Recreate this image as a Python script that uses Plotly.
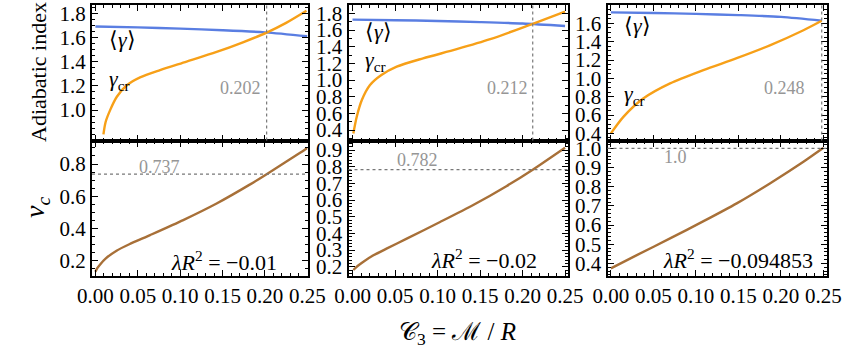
import plotly.graph_objects as go

# ---------------- data ----------------
# Top row: adiabatic index
p1_gcr_x = [0.0095, 0.012, 0.0174, 0.0253, 0.037, 0.0527, 0.0762, 0.1076, 0.143, 0.174, 0.202, 0.225, 0.249]
p1_gcr_y = [0.80, 0.90, 1.00, 1.11, 1.205, 1.27, 1.33, 1.40, 1.48, 1.56, 1.64, 1.72, 1.82]
p1_gav_x = [0.0, 0.05, 0.10, 0.15, 0.20, 0.25]
p1_gav_y = [1.69, 1.683, 1.673, 1.66, 1.642, 1.61]

p2_gcr_x = [0.001, 0.005, 0.011, 0.0206, 0.034, 0.052, 0.083, 0.1226, 0.162, 0.212, 0.25]
p2_gcr_y = [0.36, 0.56, 0.76, 0.94, 1.06, 1.16, 1.26, 1.37, 1.49, 1.675, 1.82]
p2_gav_x = [0.0, 0.05, 0.10, 0.15, 0.20, 0.25]
p2_gav_y = [1.725, 1.718, 1.708, 1.695, 1.678, 1.648]

p3_gcr_x = [0.0, 0.0147, 0.038, 0.0696, 0.1088, 0.148, 0.187, 0.2265, 0.248]
p3_gcr_y = [0.40, 0.58, 0.78, 0.945, 1.09, 1.22, 1.36, 1.525, 1.628]
p3_gav_x = [0.0, 0.05, 0.10, 0.15, 0.20, 0.248]
p3_gav_y = [1.72, 1.713, 1.703, 1.69, 1.67, 1.628]

# Bottom row: v_c
p1_vc_x = [0.0, 0.002, 0.0056, 0.012, 0.025, 0.04, 0.0645, 0.1036, 0.143, 0.182, 0.202, 0.241, 0.25]
p1_vc_y = [0.131, 0.152, 0.177, 0.213, 0.262, 0.302, 0.359, 0.452, 0.555, 0.672, 0.737, 0.868, 0.9]
p2_vc_x = [0.001, 0.006, 0.012, 0.0246, 0.04, 0.0638, 0.103, 0.142, 0.181, 0.212, 0.25]
p2_vc_y = [0.18, 0.204, 0.227, 0.268, 0.308, 0.368, 0.468, 0.57, 0.683, 0.782, 0.914]
p3_vc_x = [0.0, 0.0305, 0.0696, 0.109, 0.148, 0.187, 0.2265, 0.25]
p3_vc_y = [0.374, 0.443, 0.53, 0.62, 0.713, 0.817, 0.93, 1.003]

crit_C3 = [0.202, 0.212, 0.248]
crit_C3_labels = ["0.202", "0.212", "0.248"]
crit_vc = [0.737, 0.782, 1.0]
crit_vc_labels = ["0.737", "0.782", "1.0"]
lambda_labels = ["\u22120.01", "\u22120.02", "\u22120.094853"]

x_ticks = [0.0, 0.05, 0.10, 0.15, 0.20, 0.25]
top_yticks = [[1.0, 1.2, 1.4, 1.6, 1.8],
              [0.4, 0.6, 0.8, 1.0, 1.2, 1.4, 1.6, 1.8],
              [0.4, 0.6, 0.8, 1.0, 1.2, 1.4, 1.6]]
bot_yticks = [[0.2, 0.4, 0.6, 0.8],
              [0.2, 0.3, 0.4, 0.5, 0.6, 0.7, 0.8, 0.9],
              [0.4, 0.5, 0.6, 0.7, 0.8, 0.9, 1.0]]

# ---------------- styling / layout ----------------
W, H = 861, 349
BLUE = "rgb(90,126,226)"
ORANGE = "rgb(247,160,24)"
BROWN = "rgb(168,112,56)"
GRAY = "rgb(150,150,150)"
FONT = "Liberation Serif"

xdom_px = [(92, 307.5), (348.5, 567.5), (607.5, 827)]
xranges = [[-0.004, 0.2502], [-0.0047, 0.2529], [-0.004, 0.2542]]
top_y_px = (5, 140.5)
bot_y_px = (140.5, 276)
top_yranges = [[0.749, 1.868], [0.275, 1.90], [0.322, 1.80]]
bot_yranges = [[0.105, 0.946], [0.144, 0.957], [0.334, 1.041]]
top_minor = [0.05, 0.1, 0.05]
bot_minor = [0.05, 0.02, 0.02]


def xd(px):
    return [px[0] / W, px[1] / W]


def yd(py):
    return [1 - py[1] / H, 1 - py[0] / H]


fig = go.Figure()

top_gcr = [(p1_gcr_x, p1_gcr_y), (p2_gcr_x, p2_gcr_y), (p3_gcr_x, p3_gcr_y)]
top_gav = [(p1_gav_x, p1_gav_y), (p2_gav_x, p2_gav_y), (p3_gav_x, p3_gav_y)]
bot_vc = [(p1_vc_x, p1_vc_y), (p2_vc_x, p2_vc_y), (p3_vc_x, p3_vc_y)]

for i in range(3):
    xt = "x" if i == 0 else f"x{i+1}"
    yt = "y" if i == 0 else f"y{i+1}"
    xb = f"x{i+4}"
    yb = f"y{i+4}"
    fig.add_trace(go.Scatter(x=top_gav[i][0], y=top_gav[i][1], mode="lines",
                             line=dict(color=BLUE, width=2.4, shape="spline", smoothing=0.8),
                             xaxis=xt, yaxis=yt, showlegend=False))
    fig.add_trace(go.Scatter(x=top_gcr[i][0], y=top_gcr[i][1], mode="lines",
                             line=dict(color=ORANGE, width=2.4, shape="spline", smoothing=0.8),
                             xaxis=xt, yaxis=yt, showlegend=False))
    fig.add_trace(go.Scatter(x=bot_vc[i][0], y=bot_vc[i][1], mode="lines",
                             line=dict(color=BROWN, width=2.4, shape="spline", smoothing=0.6),
                             xaxis=xb, yaxis=yb, showlegend=False))

axis_common = dict(showgrid=False, zeroline=False, showline=True, linecolor="black",
                   linewidth=2, mirror="allticks", ticks="inside", ticklen=6,
                   tickwidth=1.3, tickcolor="black", automargin=False,
                   tickfont=dict(family=FONT, size=21, color="black"))

layout = dict(width=W, height=H, margin=dict(l=0, r=0, t=0, b=0, autoexpand=False),
              paper_bgcolor="white", plot_bgcolor="white", showlegend=False,
              font=dict(family=FONT, color="black"))

for i in range(3):
    n_t = "" if i == 0 else str(i + 1)
    n_b = str(i + 4)
    minor_x = dict(dtick=0.01, tick0=0, ticklen=3, tickwidth=1, tickcolor="black", ticks="inside")
    layout["xaxis" + n_t] = dict(axis_common, domain=xd(xdom_px[i]), range=xranges[i],
                                 anchor="y" + n_t, tickvals=x_ticks, showticklabels=False,
                                 minor=minor_x)
    layout["yaxis" + n_t] = dict(axis_common, domain=yd(top_y_px), range=top_yranges[i],
                                 anchor="x" + n_t, tickvals=top_yticks[i], tickformat=".1f",
                                 minor=dict(dtick=top_minor[i], tick0=0, ticklen=3, tickwidth=1,
                                            tickcolor="black", ticks="inside"))
    layout["xaxis" + n_b] = dict(axis_common, domain=xd(xdom_px[i]), range=xranges[i],
                                 anchor="y" + n_b, tickvals=x_ticks, tickformat=".2f",
                                 minor=minor_x)
    layout["yaxis" + n_b] = dict(axis_common, domain=yd(bot_y_px), range=bot_yranges[i],
                                 anchor="x" + n_b, tickvals=bot_yticks[i], tickformat=".1f",
                                 minor=dict(dtick=bot_minor[i], tick0=0, ticklen=3, tickwidth=1,
                                            tickcolor="black", ticks="inside"))

fig.update_layout(**layout)

# dashed reference lines
shapes = []
for i in range(3):
    xt = "x" if i == 0 else f"x{i+1}"
    yt = "y" if i == 0 else f"y{i+1}"
    shapes.append(dict(type="line", xref=xt, yref=yt + " domain", x0=crit_C3[i], x1=crit_C3[i],
                       y0=0, y1=1, line=dict(color="rgb(120,120,120)", width=1.2, dash="3px,3px")))
    shapes.append(dict(type="line", xref=f"x{i+4} domain", yref=f"y{i+4}", x0=0, x1=1,
                       y0=crit_vc[i], y1=crit_vc[i],
                       line=dict(color="rgb(120,120,120)", width=1.2, dash="3px,3px")))
fig.update_layout(shapes=shapes)

ann = []
gav_pos = [(0.014, 1.585), (0.0124, 1.585), (0.0132, 1.575)]
gcr_pos = [(0.014, 1.25), (0.0124, 1.23), (0.0132, 0.82)]
crit_pos = [(0.1974, 1.185), (0.2088, 0.905), (0.2308, 0.894)]
vcl_pos = [(0.049, 0.783), (0.05, 0.84), (0.060, 0.955)]
lam_pos = [(0.216, 0.20), (0.219, 0.246), (0.2405, 0.422)]
for i in range(3):
    xt = "x" if i == 0 else f"x{i+1}"
    yt = "y" if i == 0 else f"y{i+1}"
    ann.append(dict(x=gav_pos[i][0], y=gav_pos[i][1], xref=xt, yref=yt, showarrow=False,
                    xanchor="left", yanchor="middle", text="\u27e8<i>\u03b3</i>\u27e9",
                    font=dict(family=FONT, size=22, color="black")))
    ann.append(dict(x=gcr_pos[i][0], y=gcr_pos[i][1], xref=xt, yref=yt, showarrow=False,
                    xanchor="left", yanchor="middle", text="<i>\u03b3</i><sub>cr</sub>",
                    font=dict(family=FONT, size=22, color="black")))
    ann.append(dict(x=crit_pos[i][0], y=crit_pos[i][1], xref=xt, yref=yt, showarrow=False,
                    xanchor="right", yanchor="middle", text=crit_C3_labels[i],
                    font=dict(family=FONT, size=18, color=GRAY)))
    ann.append(dict(x=vcl_pos[i][0], y=vcl_pos[i][1], xref=f"x{i+4}", yref=f"y{i+4}",
                    showarrow=False, xanchor="left", yanchor="middle", text=crit_vc_labels[i],
                    font=dict(family=FONT, size=18, color=GRAY)))
    ann.append(dict(x=lam_pos[i][0], y=lam_pos[i][1], xref=f"x{i+4}", yref=f"y{i+4}",
                    showarrow=False, xanchor="right", yanchor="middle",
                    text="<i>\u03bbR</i><sup>2</sup> = " + lambda_labels[i],
                    font=dict(family=FONT, size=22, color="black")))

ann.append(dict(x=38 / W, y=1 - 72 / H, xref="paper", yref="paper", showarrow=False,
                textangle=-90, text="Adiabatic index", xanchor="center", yanchor="middle",
                font=dict(family=FONT, size=22, color="black")))
ann.append(dict(x=36 / W, y=1 - 208 / H, xref="paper", yref="paper", showarrow=False,
                textangle=-90, text="<i>v</i><sub><i>c</i></sub>", xanchor="center",
                yanchor="middle", font=dict(family=FONT, size=28, color="black")))
ann.append(dict(x=458 / W, y=1 - 333 / H, xref="paper", yref="paper", showarrow=False,
                text="\U0001D49E<sub>3</sub> = \u2133 / <i>R</i>", xanchor="center",
                yanchor="middle", font=dict(family=FONT, size=25, color="black")))
fig.update_layout(annotations=ann)

fig.write_html("out.html", config={"displayModeBar": False},
               post_script="document.body.style.margin='0';")
